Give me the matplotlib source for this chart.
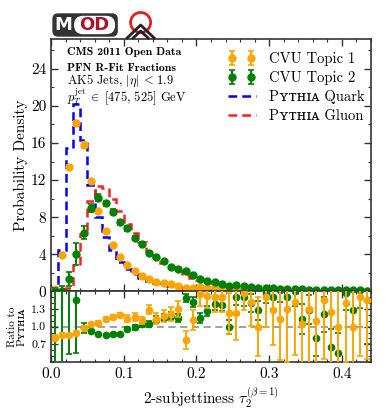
import numpy as np
import matplotlib
matplotlib.use("Agg")
import matplotlib.pyplot as plt
from matplotlib.ticker import MultipleLocator
from matplotlib.patches import FancyBboxPatch, Circle
from matplotlib.lines import Line2D

plt.rcParams['font.family'] = ['cmr10', 'DejaVu Serif', 'DejaVu Sans']
plt.rcParams['mathtext.fontset'] = 'cm'
plt.rcParams['axes.unicode_minus'] = False
plt.rcParams['axes.formatter.use_mathtext'] = False

# bins of 0.01 in tau_2
edges = np.round(np.arange(0, 0.445, 0.01), 3)
centers = edges[:-1] + 0.005

# Pythia histograms
quark = [0.0, 4.5, 15.5, 20.2, 16.3, 11.5, 8.0, 5.9, 4.5, 3.2,
         2.4, 1.9, 1.5, 1.1, 0.9, 0.75, 0.62, 0.5, 0.45, 0.38,
         0.32, 0.28, 0.24, 0.21, 0.18, 0.16, 0.14, 0.12, 0.11, 0.1,
         0.09, 0.08, 0.07, 0.065, 0.06, 0.055, 0.05, 0.045, 0.04, 0.04,
         0.035, 0.03, 0.03, 0.03]
gluon = [0.0, 0.1, 0.4, 2.85, 6.2, 9.8, 11.4, 11.2, 10.0, 8.7,
         7.3, 6.3, 5.3, 4.4, 3.7, 3.1, 2.6, 2.2, 1.8, 1.5,
         1.25, 1.05, 0.9, 0.75, 0.62, 0.52, 0.45, 0.38, 0.32, 0.27,
         0.23, 0.2, 0.17, 0.15, 0.13, 0.11, 0.1, 0.09, 0.08, 0.07,
         0.06, 0.05, 0.05, 0.04]

# CVU topics
topic1 = [0.3, 3.9, 13.4, 18.1, 15.8, 11.9, 8.65, 6.5, 5.0, 3.75,
          2.8, 2.2, 1.65, 1.3, 1.05, 0.92, 0.77, 0.6, 0.42, 0.42,
          0.48, 0.42, 0.36, 0.3, 0.24, 0.22, 0.22, 0.18, 0.12, 0.15,
          0.13, 0.1, 0.1, 0.1, 0.07, 0.08, 0.06, 0.07, 0.05, 0.04,
          0.05, 0.03, 0.05, 0.04]
topic1_err = [0.1, 0.15, 0.25, 0.3, 0.3, 0.25, 0.2, 0.2, 0.15, 0.12,
              0.12, 0.12, 0.1, 0.1, 0.08, 0.08, 0.08, 0.07, 0.06, 0.06,
              0.06, 0.06, 0.05, 0.05, 0.05, 0.05, 0.05, 0.05, 0.05, 0.05,
              0.05, 0.05, 0.05, 0.05, 0.05, 0.05, 0.05, 0.05, 0.05, 0.05,
              0.05, 0.05, 0.05, 0.05]
topic2 = [0.05, 0.1, 1.35, 4.0, 6.35, 9.0, 10.1, 9.5, 8.6, 7.45,
          6.8, 5.8, 5.1, 4.1, 3.75, 3.3, 2.6, 2.45, 2.25, 1.8,
          1.3, 1.1, 1.0, 0.85, 0.62, 0.7, 0.62, 0.48, 0.42, 0.4,
          0.35, 0.32, 0.28, 0.25, 0.22, 0.2, 0.18, 0.17, 0.15, 0.13,
          0.13, 0.12, 0.11, 0.1]
topic2_err = [0.3, 0.5, 0.8, 1.2, 0.7, 0.45, 0.35, 0.3, 0.3, 0.3,
              0.25, 0.2, 0.2, 0.15, 0.15, 0.12, 0.12, 0.1, 0.1, 0.08,
              0.08, 0.06, 0.06, 0.05, 0.05, 0.05, 0.05, 0.05, 0.05, 0.05,
              0.05, 0.05, 0.05, 0.05, 0.05, 0.05, 0.05, 0.05, 0.05, 0.05,
              0.05, 0.05, 0.05, 0.05]

# ratio to Pythia
ratio1 = [0.81, 0.86, 0.86, 0.90, 0.98, 1.04, 1.07, 1.13, 1.17, 1.20,
          1.14, 1.17, 1.11, 1.29, 1.14, 1.18, 1.22, 1.30, 0.77, 1.11,
          1.55, 1.52, 1.50, 1.50, 1.23, 1.23, 1.58, 1.42, 1.00, 1.50,
          1.29, 1.14, 1.30, 1.42, 1.05, 1.30, 1.10, 1.45, 1.25, 1.00,
          1.40, 1.00, 1.50, 1.45]
ratio1_err = [0.05, 0.03, 0.02, 0.02, 0.03, 0.02, 0.02, 0.03, 0.03, 0.04,
              0.06, 0.07, 0.06, 0.08, 0.09, 0.10, 0.12, 0.13, 0.15, 0.17,
              0.2, 0.2, 0.25, 0.25, 0.35, 0.45, 0.3, 0.4, 0.5, 0.5,
              0.6, 0.7, 0.9, 0.9, 1.0, 1.0, 1.0, 1.0, 1.0, 1.0,
              1.0, 1.0, 1.0, 1.0]
ratio2 = [2.0, 2.0, 1.8, 1.46, 0.98, 0.92, 0.88, 0.86, 0.87, 0.87,
          0.96, 0.99, 1.04, 1.04, 1.12, 1.15, 1.18, 1.15, 1.49, 1.42,
          1.15, 1.27, 1.38, 1.37, 1.00, 1.50, 1.50, 1.40, 1.28, 1.58,
          1.50, 1.62, 1.50, 1.60, 1.13, 1.29, 0.81, 1.21, 0.66, 0.55,
          1.58, 1.29, 1.62, 0.30]
ratio2_err = [2.0, 2.0, 1.26, 0.9, 0.08, 0.03, 0.02, 0.02, 0.02, 0.03,
              0.04, 0.04, 0.05, 0.05, 0.06, 0.06, 0.07, 0.07, 0.07, 0.08,
              0.08, 0.09, 0.1, 0.1, 0.12, 0.13, 0.14, 0.15, 0.16, 0.18,
              0.2, 0.2, 0.22, 0.25, 0.25, 0.25, 0.3, 0.3, 0.3, 0.35,
              0.3, 0.3, 0.3, 0.4]

ORANGE = '#ffa500'
GREEN = '#008000'
SPINE = '#333333'

fig = plt.figure(figsize=(3.87, 4.12), dpi=100)
ax = fig.add_axes([0.1318, 0.2925, 0.8269, 0.6129])
axr = fig.add_axes([0.1318, 0.1214, 0.8269, 0.1711], sharex=ax)

# main panel
ax.stairs(quark, edges, color='blue', lw=1.8, ls=(0, (3.5, 2)), label='Pʏᴛʜɪᴀ Quark', zorder=2)
ax.stairs(gluon, edges, color='#ff2020', lw=1.8, ls=(0, (3.5, 2)), label='Pʏᴛʜɪᴀ Gluon', zorder=2)
ax.errorbar(centers, topic1, yerr=topic1_err, fmt='o', color=ORANGE, ms=5,
            elinewidth=1.4, capsize=2, capthick=1.2, zorder=3, label='CVU Topic 1')
ax.errorbar(centers, topic2, yerr=topic2_err, fmt='o', color=GREEN, ms=5,
            elinewidth=1.4, capsize=2, capthick=1.2, zorder=4, label='CVU Topic 2')

ax.set_xlim(0, 0.44)
ax.set_ylim(0, 27.2)
ax.set_ylabel('Probability Density', fontsize=11, labelpad=2)
ax.yaxis.set_major_locator(MultipleLocator(4))
ax.yaxis.set_minor_locator(MultipleLocator(2))
ax.xaxis.set_major_locator(MultipleLocator(0.1))
ax.xaxis.set_minor_locator(MultipleLocator(0.02))
ax.tick_params(labelbottom=False)

h, l = ax.get_legend_handles_labels()
order = [l.index('CVU Topic 1'), l.index('CVU Topic 2'), l.index('Pʏᴛʜɪᴀ Quark'), l.index('Pʏᴛʜɪᴀ Gluon')]
ax.legend([h[i] for i in order], [l[i] for i in order], loc='upper right',
          bbox_to_anchor=(1.02, 1.0), frameon=False, fontsize=10.5, numpoints=2,
          handlelength=1.9, labelspacing=0.35, handletextpad=0.9)

ax.text(0.05, 0.948, 'CMS 2011 Open Data', transform=ax.transAxes, fontsize=8.5,
        fontfamily='cmb10', va='center')
ax.text(0.05, 0.885, 'PFN R-Fit Fractions', transform=ax.transAxes, fontsize=8.5,
        fontfamily='cmb10', va='center')
ax.text(0.05, 0.833, r'AK5 Jets, $|\eta|\,<\,1.9$', transform=ax.transAxes, fontsize=9, va='center')
ax.text(0.05, 0.772, r'$p_T^{\mathrm{jet}}\;\in\;[475,\,525]$ GeV', transform=ax.transAxes,
        fontsize=9, va='center')

# ratio panel
axr.axhline(1.0, color='#999999', ls=(0, (4, 2.5)), lw=1.3, zorder=1)
axr.errorbar(centers, ratio2, yerr=ratio2_err, fmt='o', color=GREEN, ms=4.5,
             elinewidth=1.4, capsize=2, capthick=1.2, zorder=3)
axr.errorbar(centers, ratio1, yerr=ratio1_err, fmt='o', color=ORANGE, ms=4.5,
             elinewidth=1.4, capsize=2, capthick=1.2, zorder=4)
axr.set_ylim(0.4, 1.6)
axr.yaxis.set_minor_locator(MultipleLocator(0.1))
axr.set_yticks([0.7, 1.0, 1.3])
axr.set_yticklabels(['0.7', '1.0', '1.3'], fontsize=8.5)
axr.set_ylabel('Ratio to\nPʏᴛʜɪᴀ', fontsize=8, labelpad=3, linespacing=1.0)
axr.set_xlabel(r'2-subjettiness $\tau_2^{(\beta=1)}$', fontsize=11, labelpad=3)
axr.set_xticks([0.0, 0.1, 0.2, 0.3, 0.4])
axr.set_xticklabels(['0.0', '0.1', '0.2', '0.3', '0.4'])

for a in (ax, axr):
    for s in a.spines.values():
        s.set_color(SPINE)
        s.set_linewidth(1.2)
    a.tick_params(which='both', direction='in', top=True, right=True, color=SPINE)
    a.tick_params(which='major', length=5, width=1.0, labelsize=11)
    a.tick_params(which='minor', length=2.5, width=0.8)
axr.tick_params(axis='y', which='major', labelsize=8.5)

# MOD logo
lax = fig.add_axes([0, 0.90, 0.45, 0.1])
lax.set_xlim(0, 174)
lax.set_ylim(41.2, 0)
lax.axis('off')
lax.add_patch(FancyBboxPatch((53, 14), 64, 22, boxstyle='round,pad=0,rounding_size=5',
                             fc='#333333', ec='#333333', lw=1))
lax.add_patch(FancyBboxPatch((74, 15.8), 41, 18.4, boxstyle='round,pad=0,rounding_size=9',
                             fc='white', ec='white', lw=0))
lax.text(63.5, 25.5, 'M', color='white', fontsize=13, fontweight='bold',
         fontfamily='DejaVu Sans', ha='center', va='center')
lax.text(94.5, 25.5, 'OD', color='#a3162b', fontsize=13, fontweight='bold',
         fontfamily='DejaVu Sans', ha='center', va='center')
lax.add_patch(Circle((140.5, 22.5), 10, fc='none', ec='#e02020', lw=2.0))
lax.add_line(Line2D([127, 140.5, 154], [38, 25, 38], color='#222222', lw=2.0))
lax.add_line(Line2D([133, 140.5, 148], [38, 31, 38], color='#222222', lw=2.0))

fig.savefig('out.png', dpi=100)
